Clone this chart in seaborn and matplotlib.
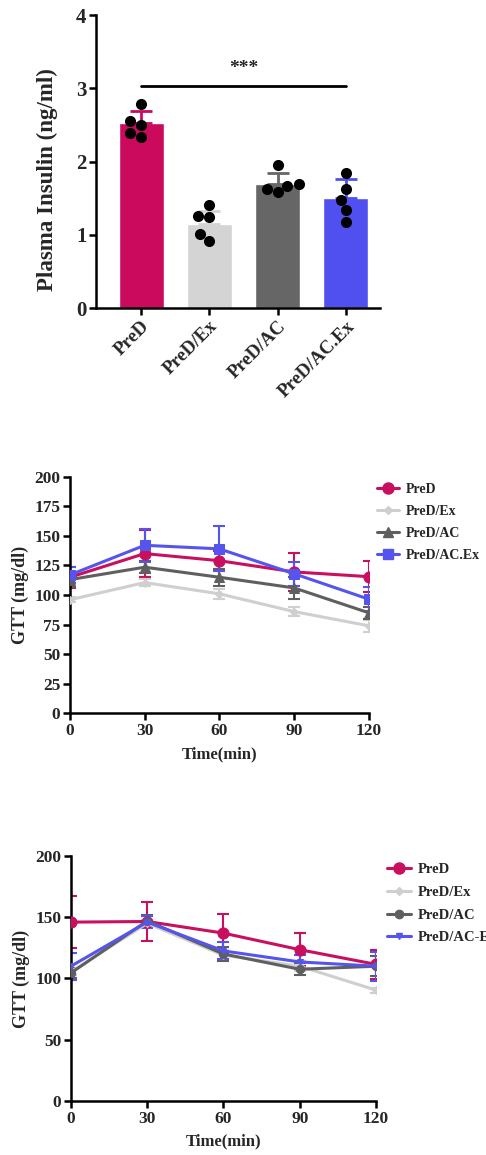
import numpy as np
import pandas as pd
import matplotlib
matplotlib.use("Agg")
import matplotlib.pyplot as plt
from matplotlib.lines import Line2D
import seaborn as sns

sns.set_style("ticks")
plt.rcParams['font.family'] = ['Liberation Serif', 'DejaVu Serif']
plt.rcParams['font.weight'] = 'bold'

# - data: plasma insulin -
groups = ["PreD", "PreD/Ex", "PreD/AC", "PreD/AC.Ex"]
insulin_mean = [2.52, 1.15, 1.70, 1.50]
insulin_sd = [0.17, 0.18, 0.15, 0.26]
pts_pred = [2.78, 2.50, 2.56, 2.34, 2.39]
pts_ex = [1.40, 1.24, 1.25, 0.92, 1.01]
pts_ac = [1.95, 1.69, 1.58, 1.63, 1.67]
pts_acex = [1.84, 1.62, 1.48, 1.34, 1.18]

# - data: GTT (first test) -
time_min = [0, 30, 60, 90, 120]
gtt1_pred = [115, 135, 129, 119.5, 115.5]
gtt1_pred_sd = [9, 20, 8, 16, 13]
gtt1_ex = [96, 110.5, 101, 86, 74]
gtt1_ex_sd = [2, 3, 4, 4, 5]
gtt1_ac = [113, 123.5, 115, 106, 85]
gtt1_ac_sd = [6, 5, 7, 9, 5]
gtt1_acex = [117, 142, 139, 118, 96.5]
gtt1_acex_sd = [7, 14, 19, 10, 10]

# - data: GTT (second test) -
gtt2_pred = [146, 146.5, 137, 123.5, 111.5]
gtt2_pred_sd = [21, 16, 16, 13.5, 12]
gtt2_ex = [105.5, 145, 119, 110, 90.5]
gtt2_ex_sd = [3, 3, 4, 4, 2]
gtt2_ac = [104.5, 147, 120, 107.5, 110]
gtt2_ac_sd = [4, 5, 6, 5, 8]
gtt2_acex = [110, 146, 122.5, 113.5, 110]
gtt2_acex_sd = [11, 5, 7, 6, 12]

bar_colors = ["#CB0A5E", "#D4D4D4", "#666666", "#5050F0"]
line_colors = ["#C8105E", "#CFCFCF", "#5F5F5F", "#5555EE"]

fig = plt.figure(figsize=(4.86, 11.55), dpi=100)


def style_axis(ax):
    sns.despine(ax=ax)
    for s in ["left", "bottom"]:
        ax.spines[s].set_linewidth(1.8)
        ax.spines[s].set_color("black")
    ax.tick_params(width=1.8, length=5, color="black", pad=2)


# - Panel 1: bar chart -
ax1 = fig.add_axes([0.1975, 0.7333, 0.5845, 0.2537])
bars = pd.DataFrame({"group": groups, "mean": insulin_mean})
sns.barplot(data=bars, x="group", y="mean", hue="group", palette=bar_colors,
            width=0.66, legend=False, ax=ax1, saturation=1)
for i in range(len(groups)):
    ax1.errorbar(i, insulin_mean[i], yerr=[[0], [insulin_sd[i]]],
                 fmt="none", ecolor=bar_colors[i], elinewidth=2, capsize=8, capthick=2)
points = pd.DataFrame({
    "group": np.repeat(groups, 5),
    "value": pts_pred + pts_ex + pts_ac + pts_acex,
})
sns.swarmplot(data=points, x="group", y="value", color="black", size=8, ax=ax1)
ax1.plot([0, 3], [3.03, 3.03], color="black", lw=2)
ax1.text(1.5, 3.15, "***", ha="center", va="bottom", fontsize=14, fontweight="bold")
ax1.set_xlim(-0.66, 3.5)
ax1.set_ylim(0, 4)
ax1.set_yticks([0, 1, 2, 3, 4])
ax1.set_xlabel("")
ax1.set_ylabel("Plasma Insulin (ng/ml)", fontsize=16.5, fontweight="bold")
ax1.yaxis.set_label_coords(-0.135, 0.44)
ax1.set_xticks(range(len(groups)))
ax1.set_xticklabels(groups, rotation=45, ha="right", rotation_mode="anchor",
                    fontsize=13.5, fontweight="bold")
ax1.tick_params(axis="y", labelsize=15)
style_axis(ax1)
for lab in ax1.get_yticklabels():
    lab.set_fontweight("bold")


def gtt_panel(rect, series, sds, labels, markers, msizes, yticks,
              legend_anchor, legend_size):
    ax = fig.add_axes(rect)
    rows = []
    for lab, vals in zip(labels, series):
        for t, v in zip(time_min, vals):
            rows.append((lab, t, v))
    df = pd.DataFrame(rows, columns=["group", "time", "value"])
    for lab, vals, sd, col, mk, ms in zip(labels, series, sds, line_colors, markers, msizes):
        ax.errorbar(time_min, vals, yerr=sd, fmt="none", ecolor=col,
                    elinewidth=1.5, capsize=4, capthick=1.5, zorder=2)
        sns.lineplot(data=df[df["group"] == lab], x="time", y="value", color=col,
                     marker=mk, markersize=ms, markeredgecolor=col, lw=2.2,
                     errorbar=None, ax=ax, zorder=3)
    ax.set_xlim(0, 120)
    ax.set_ylim(0, 200)
    ax.set_xticks(time_min)
    ax.set_yticks(yticks)
    ax.set_xlabel("Time(min)", fontsize=12, fontweight="bold", labelpad=5)
    ax.set_ylabel("GTT (mg/dl)", fontsize=13, fontweight="bold")
    ax.tick_params(labelsize=12.5)
    style_axis(ax)
    for lab in ax.get_xticklabels() + ax.get_yticklabels():
        lab.set_fontweight("bold")
    handles = [Line2D([], [], color=c, marker=m, markersize=s, lw=2.2)
               for c, m, s in zip(line_colors, markers, msizes)]
    ax.legend(handles, labels, loc="upper left", bbox_to_anchor=legend_anchor,
              bbox_transform=fig.transFigure, frameon=False,
              prop={"weight": "bold", "size": legend_size}, handlelength=1.6,
              handletextpad=0.5, labelspacing=0.65)
    return ax


# - Panel 2: GTT -
gtt_panel([0.144, 0.3824, 0.6146, 0.2049],
          [gtt1_pred, gtt1_ex, gtt1_ac, gtt1_acex],
          [gtt1_pred_sd, gtt1_ex_sd, gtt1_ac_sd, gtt1_acex_sd],
          ["PreD", "PreD/Ex", "PreD/AC", "PreD/AC.Ex"],
          ["o", "D", "^", "s"], [8, 4, 7, 7],
          np.arange(0, 201, 25), (0.75, 0.593), 10)

# - Panel 3: GTT -
gtt_panel([0.146, 0.0468, 0.6276, 0.2121],
          [gtt2_pred, gtt2_ex, gtt2_ac, gtt2_acex],
          [gtt2_pred_sd, gtt2_ex_sd, gtt2_ac_sd, gtt2_acex_sd],
          ["PreD", "PreD/Ex", "PreD/AC", "PreD/AC-Ex"],
          ["o", "D", "o", "v"], [8, 4, 6, 4],
          [0, 50, 100, 150, 200], (0.77, 0.264), 10.5)

fig.savefig("out.png", dpi=100)
